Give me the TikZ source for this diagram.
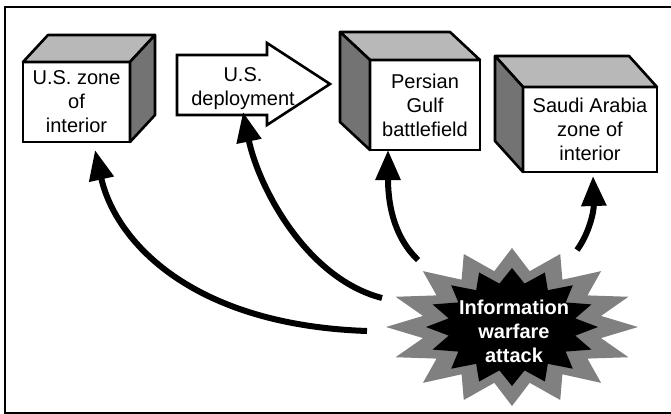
\documentclass[tikz,border=0pt]{standalone}
\usepackage{fontspec}
\setmainfont{Liberation Sans}
\usetikzlibrary{arrows.meta,calc}
\begin{document}
\begin{tikzpicture}[x=1pt,y=-1pt,
  txt/.style={inner sep=0pt,outer sep=0pt,align=center,font=\fontsize{20}{24}\selectfont},
  face/.style={txt,draw,line width=2.6pt,fill=white},
  topface/.style={draw,line width=2.6pt,fill=black!28,line join=round},
  sideface/.style={draw,line width=2.6pt,fill=black!55,line join=round},
  hit/.style={line width=6pt,-{Triangle[length=30pt,width=24pt]}}
]
\useasboundingbox (0,0) rectangle (671,414);

% frame (open on the right)
\draw[line width=1.2pt] (671,7) -- (5,7) -- (5,413) -- (671,413);

% U.S. zone of interior: box seen from the left
\node[face,minimum width=107pt,minimum height=80pt] (zoi) at (76.5,102) {U.S. zone\\of\\interior};
\draw[topface] (zoi.north west) -- ++(25,-27) -- ($(zoi.north east)+(25,-27)$) -- (zoi.north east) -- cycle;
\draw[sideface] (zoi.north east) -- ++(25,-27) -- ($(zoi.south east)+(25,-27)$) -- (zoi.south east) -- cycle;

% U.S. deployment: block arrow
\node[inner sep=0pt,outer sep=0pt,minimum width=90pt,minimum height=60pt] (dep) at (222,85) {};
\draw[line width=2.6pt,fill=white] (dep.north east) -- ++(0,-12) -- ++(63,41) -- ++(-63,41)
  -- (dep.south east) -- (dep.south west) -- (dep.north west) -- cycle;
\node[txt] (deptext) at (243,89) {U.S.\\deployment};

% Persian Gulf battlefield: box seen from the right
\node[face,minimum width=110pt,minimum height=90pt] (pgb) at (425,105) {Persian\\Gulf\\battlefield};
\draw[topface] (pgb.north east) -- ++(-30,-28) -- ($(pgb.north west)+(-30,-28)$) -- (pgb.north west) -- cycle;
\draw[sideface] (pgb.north west) -- ++(-30,-28) -- ($(pgb.south west)+(-30,-28)$) -- (pgb.south west) -- cycle;

% Saudi Arabia zone of interior
\node[face,minimum width=134pt,minimum height=85pt] (saz) at (590,129.5) {Saudi Arabia\\zone of\\interior};
\draw[topface] (saz.north east) -- ++(-28,-31) -- ($(saz.north west)+(-28,-31)$) -- (saz.north west) -- cycle;
\draw[sideface] (saz.north west) -- ++(-28,-31) -- ($(saz.south west)+(-28,-31)$) -- (saz.south west) -- cycle;

% starburst: shaded outer ring and black core
\fill[black!50] plot[samples at={0,...,31},variable=\k]
  ({512+126*(1-0.28*mod(\k,2))*cos(90+11.25*\k)},{327-79*(1-0.28*mod(\k,2))*sin(90+11.25*\k)}) -- cycle;
\fill[black] plot[samples at={0,...,31},variable=\k]
  ({512+86*(1-0.25*mod(\k,2))*cos(90+11.25*\k)},{327-59*(1-0.25*mod(\k,2))*sin(90+11.25*\k)}) -- cycle;
\node[inner sep=0pt,align=center,text=white,font=\bfseries\fontsize{20}{24}\selectfont] (attack) at (514,331)
  {Information\\warfare\\attack};

% where the attack arrows leave the burst
\coordinate (s1) at (367,331);
\coordinate (s2) at (382,298);
\coordinate (s3) at (418,260);
\coordinate (s4) at (577,250);

\draw[hit] (s1) .. controls (190,325) and (115,240) .. ($(zoi.south)+(18.5,8)$);
\draw[hit] (s2) .. controls (305,278) and (258,185) .. ($(dep.south)+(21,-3)$);
\draw[hit] (s3) .. controls (392,235) and (388,200) .. ($(pgb.south)+(-37,0)$);
\draw[hit] (s4) .. controls (590,232) and (594,210) .. ($(saz.south)+(3,4)$);
\end{tikzpicture}
\end{document}
